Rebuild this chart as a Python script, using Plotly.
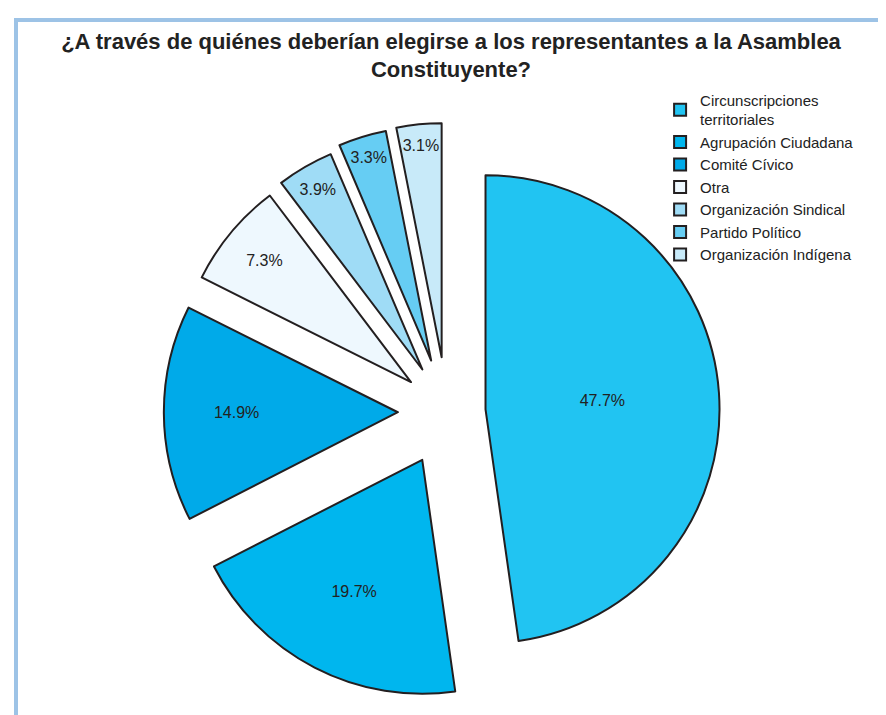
import plotly.graph_objects as go

labels = ["Circunscripciones<br>territoriales", "Agrupación Ciudadana", "Comité Cívico",
          "Otra", "Organización Sindical", "Partido Político", "Organización Indígena"]
values = [47.7, 19.7, 14.9, 7.3, 3.9, 3.3, 3.1]
colors = ["#21C4F2", "#00B6EE", "#00AAE9", "#EEF8FE", "#9FDCF6", "#66CDF3", "#C8EAF9"]
pulls = [0.165, 0.23, 0.21, 0.2, 0.21, 0.23, 0.235]

FONT = "Liberation Sans, Arial, sans-serif"

# pie centre (439, 404) px, radius ~234 px
fig = go.Figure(go.Pie(
    labels=labels, values=values, sort=False, direction="clockwise", rotation=0,
    pull=pulls,
    marker=dict(colors=colors, line=dict(color="#231F20", width=2)),
    texttemplate="%{value:.1f}%", textposition="inside", insidetextorientation="horizontal",
    textfont=dict(family=FONT, size=16, color="#222222"),
    domain=dict(x=[(439 - 289) / 886, (439 + 289) / 886],
                y=[1 - (404 + 289) / 715, 1 - (404 - 289) / 715]),
    hoverinfo="label+percent",
))

fig.update_layout(
    width=886, height=715, autosize=False,
    margin=dict(l=0, r=0, t=0, b=0),
    paper_bgcolor="white", plot_bgcolor="white",
    title=dict(text="<b>¿A través de quiénes deberían elegirse a los representantes a la Asamblea<br>Constituyente?</b>",
               x=0.5, xanchor="center", y=0.943, yanchor="top", yref="container",
               font=dict(family=FONT, size=22, color="#222222")),
    legend=dict(x=0.736, y=0.894, xanchor="left", yanchor="top",
                font=dict(family=FONT, size=15, color="#222222"),
                bgcolor="rgba(0,0,0,0)", traceorder="normal"),
    uniformtext=dict(minsize=16, mode="show"),
    shapes=[
        dict(type="line", xref="paper", yref="paper", x0=8/886, x1=1, y0=1-12/715, y1=1-12/715,
             line=dict(color="#9DC3E6", width=4)),
        dict(type="line", xref="paper", yref="paper", x0=8/886, x1=8/886, y0=0, y1=1-10/715,
             line=dict(color="#9DC3E6", width=4)),
    ],
)

fig.write_html("out.html")
